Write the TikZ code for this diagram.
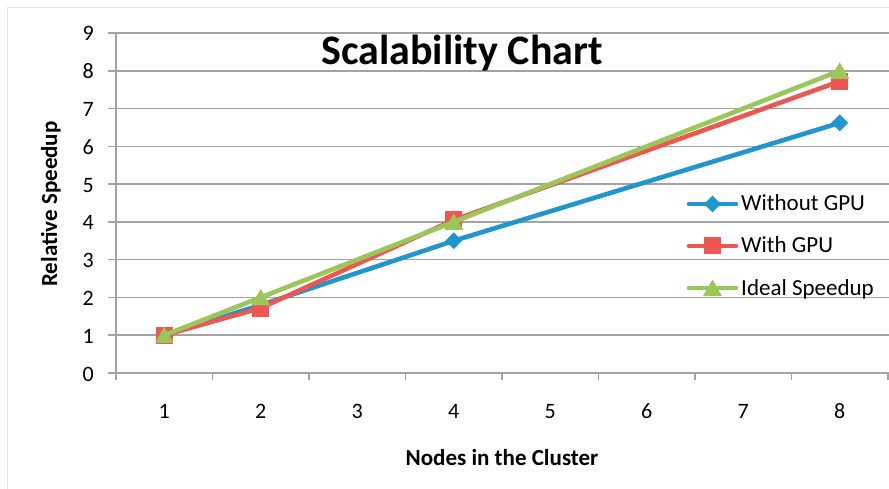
\documentclass[tikz,border=0pt]{standalone}
\usepackage{fontspec}
\setmainfont{Carlito}
\usetikzlibrary{shapes.geometric}
\definecolor{sblue}{HTML}{1F96CD}
\definecolor{sred}{HTML}{EE5651}
\definecolor{sgreen}{HTML}{9BC75A}
\definecolor{gridc}{HTML}{A3A3A3}
\definecolor{framec}{HTML}{E2E2E2}
\tikzset{
  grid line/.style={draw=gridc, line width=1.6pt},
  series/.style={line width=4.6pt, line cap=round, line join=round},
  ticklab/.style={font=\fontsize{22}{24}\selectfont, inner sep=0pt},
  axtitle/.style={font=\fontsize{23}{25}\selectfont\bfseries, inner sep=0pt},
  legtext/.style={font=\fontsize{23}{25}\selectfont, inner sep=0pt, anchor=base west},
  dmark/.style={diamond, fill=sblue, minimum width=17pt, minimum height=17pt, inner sep=0pt},
  smark/.style={rectangle, fill=sred, minimum width=17pt, minimum height=17pt, inner sep=0pt},
  tmark/.pic={\fill[sgreen] (-9.5,8) -- (9.5,8) -- (0,-8.5) -- cycle;}
}
\begin{document}
\begin{tikzpicture}[x=1pt,y=-1pt]
\useasboundingbox (0,0) rectangle (889,489);
% frame
\draw[framec, line width=1pt] (7,489) -- (7,8) -- (889,8);
% gridlines and y labels
\foreach \v in {1,...,9}{
  \draw[grid line] (108,{373-37.78*\v}) -- (889,{373-37.78*\v});
}
\foreach \v in {0,...,9}{
  \node[ticklab, anchor=base east] (yl\v) at (94,{381-37.78*\v}) {\v};
}
% axes
\draw[grid line] (116,33) -- (116,380);
\draw[grid line] (108,373) -- (889,373);
\foreach \i in {1,...,8}{
  \draw[grid line] ({116+96.5*\i},373) -- ({116+96.5*\i},380);
  \node[ticklab, anchor=base] (xl\i) at ({116+96.5*(\i-0.5)},418) {\i};
}
% titles
\node[font=\fontsize{42}{44}\selectfont\bfseries, inner sep=0pt, anchor=base] (title) at (462,65) {Scalability Chart};
\node[axtitle, anchor=base] (xtitle) at (502,465) {Nodes in the Cluster};
\node[axtitle, anchor=base, rotate=90] (ytitle) at (57,204) {Relative Speedup};
% data coordinates
\coordinate (b1) at (164.25,335.2);
\coordinate (b2) at (260.75,305.0);
\coordinate (b4) at (453.75,240.8);
\coordinate (b8) at (839.75,122.9);
\coordinate (r1) at (164.25,335.2);
\coordinate (r2) at (260.75,308.0);
\coordinate (r4) at (453.75,220.0);
\coordinate (r8) at (839.75,81.3);
\coordinate (g1) at (164.25,335.2);
\coordinate (g2) at (260.75,297.4);
\coordinate (g4) at (453.75,221.9);
\coordinate (g8) at (839.75,70.8);
% without GPU
\draw[series, sblue] (b1) -- (b2) -- (b4) -- (b8);
\foreach \p in {1,2,4,8}{ \node[dmark] (bm\p) at (b\p) {}; }
% with GPU
\draw[series, sred] (r1) -- (r2) -- (r4) -- (r8);
\foreach \p in {1,2,4,8}{ \node[smark] (rm\p) at (r\p) {}; }
% ideal
\draw[series, sgreen] (g1) -- (g2) -- (g4) -- (g8);
\foreach \p in {1,2,4,8}{ \pic at (g\p) {tmark}; }
% legend
\coordinate (lb0) at (689,204); \coordinate (lb1) at (736,204);
\coordinate (lr0) at (689,246); \coordinate (lr1) at (736,246);
\coordinate (lg0) at (689,288); \coordinate (lg1) at (736,288);
\draw[series, sblue] (lb0) -- (lb1);
\node[dmark] (lbm) at (712.5,204) {};
\draw[series, sred] (lr0) -- (lr1);
\node[smark] (lrm) at (712.5,246) {};
\draw[series, sgreen] (lg0) -- (lg1);
\pic at (712.5,288) {tmark};
\node[legtext] (lbt) at (741,211) {Without GPU};
\node[legtext] (lrt) at (741,253) {With GPU};
\node[legtext] (lgt) at (741,295) {Ideal Speedup};
\end{tikzpicture}
\end{document}
